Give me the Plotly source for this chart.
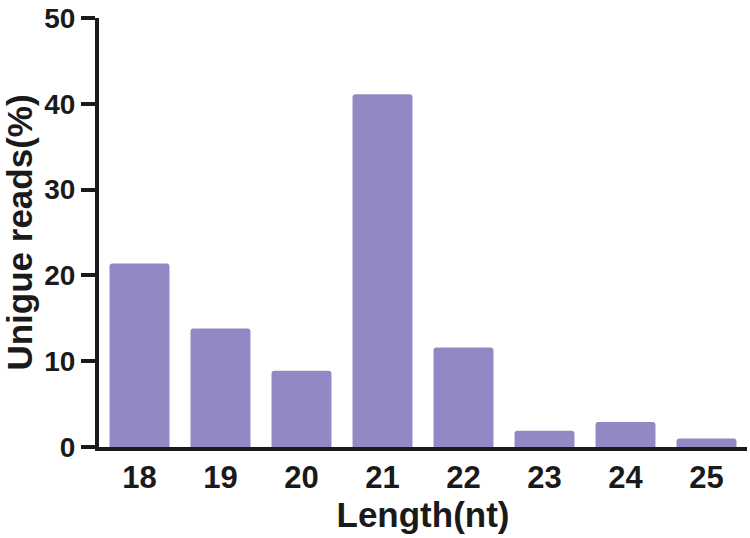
import plotly.graph_objects as go

lengths = ["18", "19", "20", "21", "22", "23", "24", "25"]
unique_reads = [21.4, 13.8, 8.9, 41.1, 11.6, 1.9, 2.9, 1.0]
y_ticks = [0, 10, 20, 30, 40, 50]

bar_color = "#9189c4"
ink = "#1a1a1a"
font_family = "Liberation Sans, Arial, Helvetica, sans-serif"

fig = go.Figure(
    go.Bar(
        x=lengths,
        y=unique_reads,
        marker=dict(color=bar_color, line=dict(width=0), cornerradius=3),
    )
)

fig.update_layout(
    width=750,
    height=538,
    margin=dict(l=99, r=3, t=13, b=91),
    paper_bgcolor="white",
    plot_bgcolor="white",
    bargap=0.26,
    showlegend=False,
    font=dict(family=font_family, color=ink, weight="bold"),
)

fig.update_xaxes(
    type="category",
    range=[-0.5, 7.5],
    showline=True,
    linecolor=ink,
    linewidth=4,
    ticks="",
    showgrid=False,
    zeroline=False,
    tickfont=dict(size=31, family=font_family, color=ink, weight="bold"),
    title=dict(
        text="Length(nt)",
        font=dict(size=35, family=font_family, color=ink, weight="bold"),
        standoff=6,
    ),
)

fig.update_yaxes(
    range=[0, 50],
    tickvals=y_ticks,
    showline=True,
    linecolor=ink,
    linewidth=4,
    ticks="outside",
    ticklen=14,
    tickwidth=4,
    tickcolor=ink,
    showgrid=False,
    zeroline=False,
    ticklabeloverflow="allow",
    tickfont=dict(size=28, family=font_family, color=ink, weight="bold"),
    title=dict(
        text="Unigue reads(%)",
        font=dict(size=35, family=font_family, color=ink, weight="bold"),
        standoff=10,
    ),
)

fig.write_html(
    "out.html",
    config={"displayModeBar": False},
    post_script="document.body.style.margin='0';document.body.style.overflow='hidden';",
)
